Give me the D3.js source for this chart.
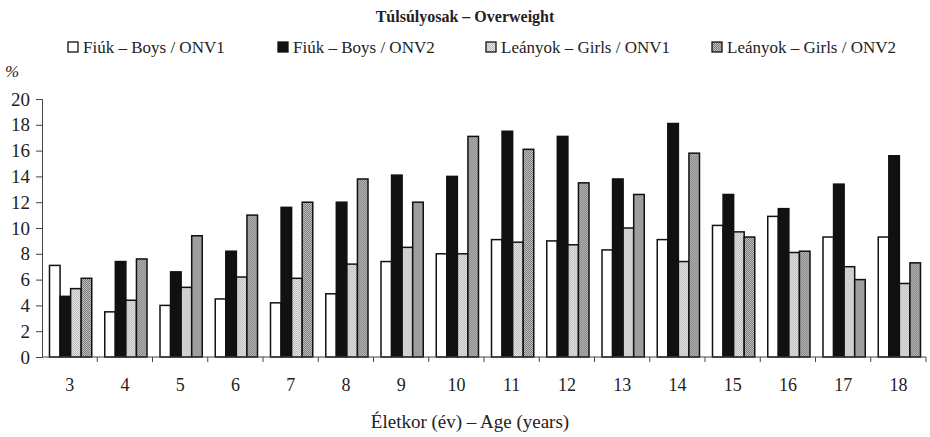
<!DOCTYPE html>
<html>
<head>
<meta charset="utf-8">
<script src="https://cdn.jsdelivr.net/npm/d3@7"></script>
<style>
	body { margin: 0; background: #fff; }
	text { font-family: "Liberation Serif", "Times New Roman", serif; fill: #222; }
</style>
</head>
<body>
<svg id="chart" width="930" height="437"></svg>
<script>
var ages = ["3", "4", "5", "6", "7", "8", "9", "10", "11", "12", "13", "14", "15", "16", "17", "18"];
var seriesNames = ["Fiúk – Boys / ONV1", "Fiúk – Boys / ONV2", "Leányok – Girls / ONV1", "Leányok – Girls / ONV2"];
var boysOnv1  = [7.1, 3.5, 4.0, 4.5, 4.2, 4.9, 7.4, 8.0, 9.1, 9.0, 8.3, 9.1, 10.2, 10.9, 9.3, 9.3];
var boysOnv2  = [4.7, 7.4, 6.6, 8.2, 11.6, 12.0, 14.1, 14.0, 17.5, 17.1, 13.8, 18.1, 12.6, 11.5, 13.4, 15.6];
var girlsOnv1 = [5.3, 4.4, 5.4, 6.2, 6.1, 7.2, 8.5, 8.0, 8.9, 8.7, 10.0, 7.4, 9.7, 8.1, 7.0, 5.7];
var girlsOnv2 = [6.1, 7.6, 9.4, 11.0, 12.0, 13.8, 12.0, 17.1, 16.1, 13.5, 12.6, 15.8, 9.3, 8.2, 6.0, 7.3];
var yTicks = [0, 2, 4, 6, 8, 10, 12, 14, 16, 18, 20];

var allSeries = [boysOnv1, boysOnv2, girlsOnv1, girlsOnv2];
var fills = ["#fff", "#111", "url(#lightDots)", "url(#darkDots)"];

var svg = d3.select("#chart");
var plotLeft = 42, plotRight = 926, plotTop = 99, plotBottom = 357;

// halftone textures for the grey bars
var defs = svg.append("defs");
function dots(id, base, dot){
	var p = defs.append("pattern")
		.attr("id", id)
		.attr("width", 2).attr("height", 2)
		.attr("patternUnits", "userSpaceOnUse");
	p.append("rect").attr("width", 2).attr("height", 2).attr("fill", base);
	p.append("rect").attr("width", 1).attr("height", 1).attr("fill", dot);
	p.append("rect").attr("x", 1).attr("y", 1).attr("width", 1).attr("height", 1).attr("fill", dot);
}
dots("lightDots", "#e4e4e4", "#bcbcbc");
dots("darkDots", "#bdbdbd", "#7e7e7e");

var x0 = d3.scaleBand().domain(ages).range([plotLeft, plotRight]).padding(0);
var x1 = d3.scaleBand().domain(d3.range(4)).range([7.5, x0.bandwidth() - 5.5]).padding(0);
var y = d3.scaleLinear().domain([0, 20]).range([plotBottom, plotTop]);

// title
svg.append("text")
	.attr("x", 465).attr("y", 22)
	.attr("text-anchor", "middle")
	.style("font-size", "16px")
	.style("font-weight", "bold")
	.text("Túlsúlyosak – Overweight");

// legend
var legendX = [68, 278, 486, 712];
var legend = svg.selectAll(".legend")
	.data(seriesNames)
	.enter().append("g")
	.attr("class", "legend")
	.attr("transform", function(d, i){ return "translate(" + legendX[i] + ",53)"; });

legend.append("rect")
	.attr("x", 0).attr("y", -11)
	.attr("width", 10).attr("height", 10)
	.attr("fill", function(d, i){ return fills[i]; })
	.attr("stroke", "#111")
	.attr("stroke-width", 1.3);

legend.append("text")
	.attr("x", 15).attr("y", 0)
	.style("font-size", "17px")
	.text(function(d){ return d; });

// y axis
var yAxis = svg.append("g")
	.attr("transform", "translate(" + plotLeft + ",0)")
	.call(d3.axisLeft(y).tickValues(yTicks).tickSize(6).tickPadding(6));
yAxis.selectAll("text")
	.style("font-size", "19px")
	.style("font-family", "Liberation Serif, serif")
	.attr("fill", "#222");
yAxis.selectAll("line, path").attr("stroke", "#444");

svg.append("text")
	.attr("x", 5).attr("y", 77)
	.style("font-size", "17px")
	.style("font-style", "italic")
	.text("%");

// bars
var groups = svg.selectAll(".group")
	.data(ages)
	.enter().append("g")
	.attr("class", "group")
	.attr("transform", function(d){ return "translate(" + x0(d) + ",0)"; });

groups.selectAll("rect")
	.data(function(d, gi){ return allSeries.map(function(s, si){ return {s: si, v: s[gi]}; }); })
	.enter().append("rect")
	.attr("x", function(d){ return x1(d.s); })
	.attr("y", function(d){ return y(d.v); })
	.attr("width", x1.bandwidth())
	.attr("height", function(d){ return plotBottom - y(d.v); })
	.attr("fill", function(d){ return fills[d.s]; })
	.attr("stroke", "#111")
	.attr("stroke-width", 1.5);

// x axis: ticks on group boundaries, labels centered in the band
var xAxis = svg.append("g")
	.attr("transform", "translate(0," + plotBottom + ")");
xAxis.append("line")
	.attr("x1", plotLeft).attr("x2", plotRight)
	.attr("stroke", "#444");
xAxis.selectAll(".xtick")
	.data(ages)
	.enter().append("line")
	.attr("x1", function(d){ return x0(d) + x0.bandwidth(); })
	.attr("x2", function(d){ return x0(d) + x0.bandwidth(); })
	.attr("y1", 0).attr("y2", 5)
	.attr("stroke", "#444");
xAxis.selectAll(".xlabel")
	.data(ages)
	.enter().append("text")
	.attr("x", function(d){ return x0(d) + x0.bandwidth() / 2; })
	.attr("y", 34)
	.attr("text-anchor", "middle")
	.style("font-size", "18px")
	.text(function(d){ return d; });

svg.append("text")
	.attr("x", 470).attr("y", 428)
	.attr("text-anchor", "middle")
	.style("font-size", "19px")
	.text("Életkor (év) – Age (years)");
</script>
</body>
</html>
